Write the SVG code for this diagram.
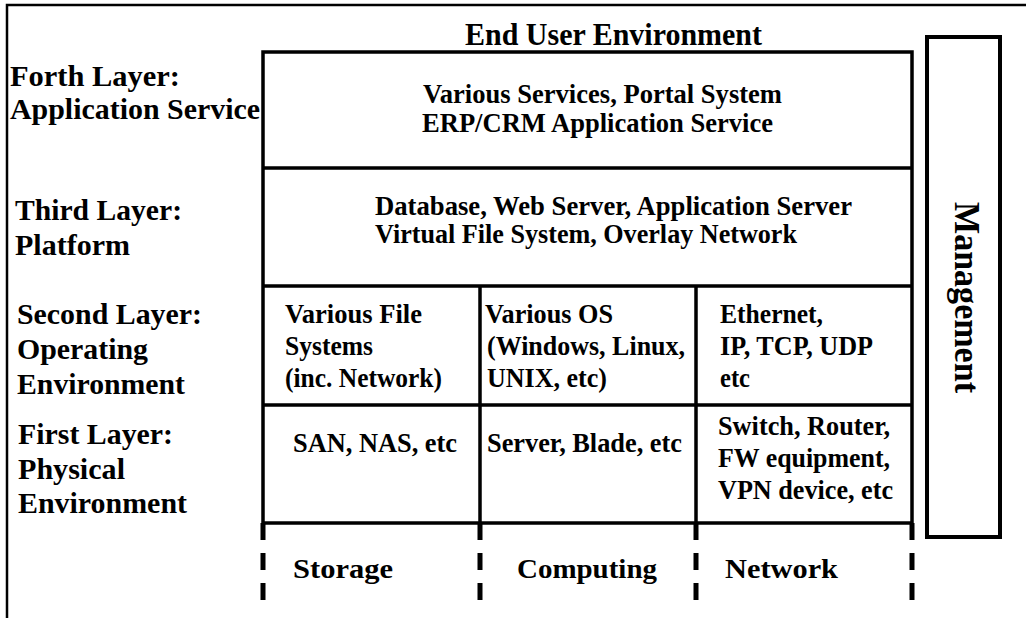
<svg xmlns="http://www.w3.org/2000/svg" width="1026" height="618" viewBox="0 0 1026 618">
<style>
text{font-family:"Liberation Serif","Times New Roman",serif;font-weight:bold;fill:#000}
.lab{font-size:30px}
.in{font-size:27px}
.cell{font-size:27px}
.bot{font-size:28px}
.ln{stroke:#000;stroke-width:3.5;fill:none}
.dash{stroke:#000;stroke-width:5;stroke-dasharray:17 13;fill:none}
</style>
<rect width="1026" height="618" fill="#fff"/>
<g id="frame">
<path d="M7,618 V5 H1026" stroke="#000" stroke-width="2.5" fill="none"/>
</g>
<g id="labels">
<text class="lab" x="10" y="86" textLength="170" lengthAdjust="spacingAndGlyphs">Forth Layer:</text>
<text class="lab" x="10" y="119" textLength="250" lengthAdjust="spacingAndGlyphs">Application Service</text>
<text class="lab" x="15" y="220" textLength="167" lengthAdjust="spacingAndGlyphs">Third Layer:</text>
<text class="lab" x="15" y="255" textLength="115" lengthAdjust="spacingAndGlyphs">Platform</text>
<text class="lab" x="17" y="324" textLength="185" lengthAdjust="spacingAndGlyphs">Second Layer:</text>
<text class="lab" x="17" y="359" textLength="131" lengthAdjust="spacingAndGlyphs">Operating</text>
<text class="lab" x="17" y="394" textLength="168" lengthAdjust="spacingAndGlyphs">Environment</text>
<text class="lab" x="18" y="444" textLength="155" lengthAdjust="spacingAndGlyphs">First Layer:</text>
<text class="lab" x="18" y="479" textLength="107" lengthAdjust="spacingAndGlyphs">Physical</text>
<text class="lab" x="18" y="513" textLength="169" lengthAdjust="spacingAndGlyphs">Environment</text>
</g>
<g id="end-user">
<text x="465" y="45" font-size="31" textLength="297" lengthAdjust="spacingAndGlyphs">End User Environment</text>
</g>
<g id="table">
<rect class="ln" x="263" y="52" width="649" height="471"/>
<path class="ln" d="M263,168 H912 M263,286 H912 M263,405 H912 M480,286 V523 M696,286 V523"/>
</g>
<g id="layer4">
<text class="in" x="423" y="103" textLength="359" lengthAdjust="spacingAndGlyphs">Various Services, Portal System</text>
<text class="in" x="422" y="132" textLength="351" lengthAdjust="spacingAndGlyphs">ERP/CRM Application Service</text>
</g>
<g id="layer3">
<text class="in" x="375" y="215" textLength="477" lengthAdjust="spacingAndGlyphs">Database, Web Server, Application Server</text>
<text class="in" x="375" y="243" textLength="422" lengthAdjust="spacingAndGlyphs">Virtual File System, Overlay Network</text>
</g>
<g id="l2-storage">
<text class="cell" x="285" y="323" textLength="137" lengthAdjust="spacingAndGlyphs">Various File</text>
<text class="cell" x="285" y="355" textLength="88" lengthAdjust="spacingAndGlyphs">Systems</text>
<text class="cell" x="285" y="387" textLength="157" lengthAdjust="spacingAndGlyphs">(inc. Network)</text>
</g>
<g id="l2-computing">
<text class="cell" x="485" y="323" textLength="128" lengthAdjust="spacingAndGlyphs">Various OS</text>
<text class="cell" x="487" y="355" textLength="198" lengthAdjust="spacingAndGlyphs">(Windows, Linux,</text>
<text class="cell" x="487" y="387" textLength="120" lengthAdjust="spacingAndGlyphs">UNIX, etc)</text>
</g>
<g id="l2-network">
<text class="cell" x="720" y="323" textLength="103" lengthAdjust="spacingAndGlyphs">Ethernet,</text>
<text class="cell" x="720" y="355" textLength="153" lengthAdjust="spacingAndGlyphs">IP, TCP, UDP</text>
<text class="cell" x="720" y="387" textLength="30" lengthAdjust="spacingAndGlyphs">etc</text>
</g>
<g id="l1-storage">
<text class="cell" x="293" y="452" textLength="164" lengthAdjust="spacingAndGlyphs">SAN, NAS, etc</text>
</g>
<g id="l1-computing">
<text class="cell" x="487" y="452" textLength="195" lengthAdjust="spacingAndGlyphs">Server, Blade, etc</text>
</g>
<g id="l1-network">
<text class="cell" x="718" y="435" textLength="172" lengthAdjust="spacingAndGlyphs">Switch, Router,</text>
<text class="cell" x="718" y="467" textLength="172" lengthAdjust="spacingAndGlyphs">FW equipment,</text>
<text class="cell" x="718" y="499" textLength="175" lengthAdjust="spacingAndGlyphs">VPN device, etc</text>
</g>
<g id="connectors">
<path class="dash" d="M263,523 V600 M480,523 V600 M696,523 V600 M912,523 V600"/>
</g>
<g id="columns">
<text class="bot" x="293" y="578" textLength="100" lengthAdjust="spacingAndGlyphs">Storage</text>
<text class="bot" x="517" y="578" textLength="140" lengthAdjust="spacingAndGlyphs">Computing</text>
<text class="bot" x="725" y="578" textLength="113" lengthAdjust="spacingAndGlyphs">Network</text>
</g>
<g id="management">
<rect x="927" y="37" width="73" height="500" fill="none" stroke="#000" stroke-width="4"/>
<text transform="translate(955,202) rotate(90)" font-size="35" textLength="191" lengthAdjust="spacingAndGlyphs">Management</text>
</g>
</svg>
